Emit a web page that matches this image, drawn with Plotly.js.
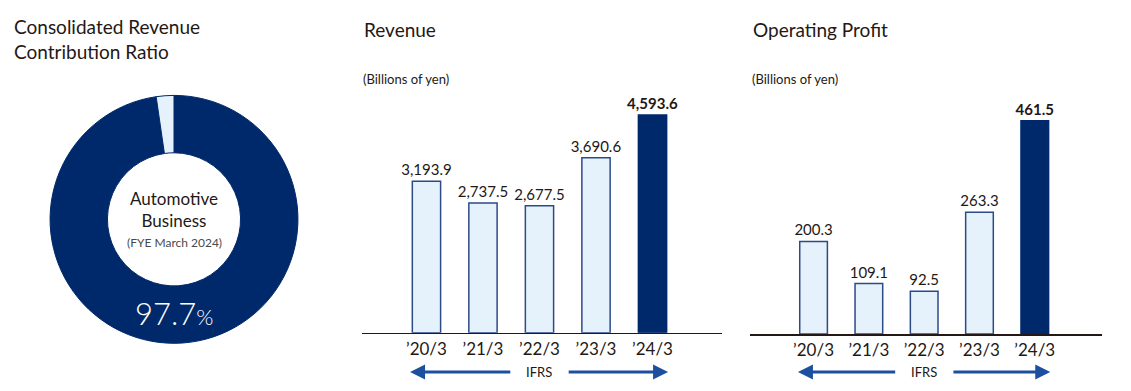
<!DOCTYPE html>
<html>
<head>
<meta charset="utf-8">
<script src="https://cdn.plot.ly/plotly-3.0.1.min.js"></script>
<style>html,body{margin:0;padding:0;background:#fff;}#chart{width:1131px;height:391px;}</style>
</head>
<body>
<div id="chart"></div>
<script>
// ---- data ----
const categories = ["’20/3", "’21/3", "’22/3", "’23/3", "’24/3"];
const revenue = [3193.9, 2737.5, 2677.5, 3690.6, 4593.6];
const operatingProfit = [200.3, 109.1, 92.5, 263.3, 461.5];
const pieLabels = ["Automotive Business", "Other"];
const pieValues = [97.7, 2.3];

const DARK = "#00296b";
const LIGHT = "#e5f2fc";
const EDGE = "#2c4a86";
const TXT = "#231815";
const ARROW = "#1d4f9f";
const FONT = "Lato, 'Noto Sans', sans-serif";

const idx = categories.map((_, i) => i);
function fmt(v) { return v.toLocaleString("en-US", {minimumFractionDigits: 1, maximumFractionDigits: 1}); }
function labels(arr) { return arr.map((v, i) => i === arr.length - 1 ? "<b>" + fmt(v) + "</b>" : fmt(v)); }
const fills = categories.map((_, i) => i === categories.length - 1 ? DARK : LIGHT);
const edges = categories.map((_, i) => i === categories.length - 1 ? DARK : EDGE);

const traces = [
  {
    type: "pie", labels: pieLabels, values: pieValues, sort: false, direction: "clockwise", rotation: 0,
    hole: 0.537, textinfo: "none", hoverinfo: "none", showlegend: false,
    marker: {colors: [DARK, LIGHT], line: {color: DARK, width: 1}},
    domain: {x: [0.0442, 0.2635], y: [0.122, 0.756]}
  },
  {
    type: "bar", x: idx, y: revenue, xaxis: "x", yaxis: "y", width: 0.5,
    marker: {color: fills, line: {color: edges, width: 1.5}},
    text: labels(revenue), textposition: "outside", cliponaxis: false, constraintext: "none",
    textfont: {family: FONT, size: 15, color: TXT}, hoverinfo: "none", showlegend: false
  },
  {
    type: "bar", x: idx, y: operatingProfit, xaxis: "x2", yaxis: "y2", width: 0.5,
    marker: {color: fills, line: {color: edges, width: 1.5}},
    text: labels(operatingProfit), textposition: "outside", cliponaxis: false, constraintext: "none",
    textfont: {family: FONT, size: 15, color: TXT}, hoverinfo: "none", showlegend: false
  }
];

const xbase = {
  tickmode: "array", tickvals: idx, ticktext: categories, showgrid: false, zeroline: false,
  showline: true, linecolor: TXT, linewidth: 1.5, ticks: "", fixedrange: true,
  tickfont: {family: FONT, size: 17, color: TXT}
};
const ybase = {visible: false, showgrid: false, zeroline: false, fixedrange: true};

function yp(px) { return 1 - px / 391; }

const annotations = [
  {xref: "paper", yref: "paper", x: 12/1131, y: yp(39), xanchor: "left", yanchor: "middle", align: "left", showarrow: false,
   text: "Consolidated Revenue<br>Contribution Ratio", font: {family: FONT, size: 19, color: TXT}},
  {xref: "paper", yref: "paper", x: 362/1131, y: yp(30), xanchor: "left", yanchor: "middle", showarrow: false,
   text: "Revenue", font: {family: FONT, size: 19, color: TXT}},
  {xref: "paper", yref: "paper", x: 751/1131, y: yp(30), xanchor: "left", yanchor: "middle", showarrow: false,
   text: "Operating Profit", font: {family: FONT, size: 19, color: TXT}},
  {xref: "paper", yref: "paper", x: 361/1131, y: yp(79), xanchor: "left", yanchor: "middle", showarrow: false,
   text: "(Billions of yen)", font: {family: FONT, size: 13, color: TXT}},
  {xref: "paper", yref: "paper", x: 750/1131, y: yp(79), xanchor: "left", yanchor: "middle", showarrow: false,
   text: "(Billions of yen)", font: {family: FONT, size: 13, color: TXT}},
  // donut texts
  {xref: "paper", yref: "paper", x: 174/1131, y: yp(209), xanchor: "center", yanchor: "middle", showarrow: false,
   text: "Automotive<br>Business", font: {family: FONT, size: 17, color: TXT}},
  {xref: "paper", yref: "paper", x: 174/1131, y: yp(242), xanchor: "center", yanchor: "middle", showarrow: false,
   text: "(FYE March 2024)", font: {family: FONT, size: 12, color: "#4a4a4a"}},
  {xref: "paper", yref: "paper", x: 174/1131, y: yp(313), xanchor: "center", yanchor: "middle", showarrow: false,
   text: pieValues[0].toFixed(1) + "<span style='font-size:22px'>%</span>", font: {family: FONT, size: 31, color: "#ffffff", weight: 300}},
  // IFRS
  {xref: "x", yref: "paper", x: 2, y: yp(372), xanchor: "center", yanchor: "middle", showarrow: false,
   text: "IFRS", font: {family: FONT, size: 13, color: TXT}},
  {xref: "x2", yref: "paper", x: 2, y: yp(372), xanchor: "center", yanchor: "middle", showarrow: false,
   text: "IFRS", font: {family: FONT, size: 13, color: TXT}}
];

function arrow(xr, head, tail) {
  return {xref: xr, axref: xr, yref: "paper", ayref: "paper", x: head, y: yp(372), ax: tail, ay: yp(372),
    text: "", showarrow: true, arrowhead: 2, arrowsize: 1, arrowwidth: 3, arrowcolor: ARROW, standoff: 0, startstandoff: 0};
}
annotations.push(arrow("x", -0.29, 1.51), arrow("x", 4.275, 2.49), arrow("x2", -0.282, 1.503), arrow("x2", 4.28, 2.502));

const layout = {
  width: 1131, height: 391, margin: {l: 0, r: 0, t: 0, b: 0},
  paper_bgcolor: "#ffffff", plot_bgcolor: "rgba(0,0,0,0)",
  font: {family: FONT, color: TXT},
  showlegend: false, bargap: 0.5,
  xaxis: Object.assign({}, xbase, {domain: [0.3201, 0.6384], range: [-1.14, 5.23], anchor: "y"}),
  yaxis: Object.assign({}, ybase, {domain: [yp(332.7), yp(100)], range: [0, 4910], anchor: "x"}),
  xaxis2: Object.assign({}, xbase, {domain: [0.6631, 0.9741], range: [-1.15, 5.21], anchor: "y2"}),
  yaxis2: Object.assign({}, ybase, {domain: [yp(334), yp(100)], range: [0, 506.3], anchor: "x2"}),
  annotations: annotations
};

Plotly.newPlot("chart", traces, layout, {displayModeBar: false, staticPlot: true});
</script>
</body>
</html>
